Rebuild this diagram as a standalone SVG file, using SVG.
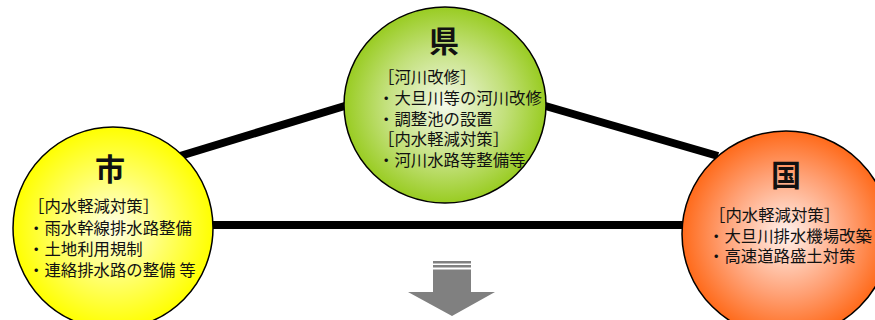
<svg xmlns="http://www.w3.org/2000/svg" width="875" height="320" viewBox="0 0 875 320">
<style>
.ln{stroke:#000;stroke-width:8;fill:none}
.node{stroke:#000;stroke-width:1.5}
.title{font-family:"Noto Sans CJK JP","Noto Sans CJK SC",sans-serif;font-weight:bold;font-size:30px;fill:#111;text-anchor:middle}
.t{font-family:"Noto Sans CJK JP","Noto Sans CJK SC",sans-serif;font-size:16.4px;fill:#111}
</style>
<defs>
<radialGradient id="gy" cx="50%" cy="50%" r="50%">
<stop offset="0" stop-color="#ffffe6"/>
<stop offset="0.55" stop-color="#ffff66"/>
<stop offset="1" stop-color="#ffff00"/>
</radialGradient>
<radialGradient id="gg" cx="50%" cy="50%" r="50%">
<stop offset="0" stop-color="#f4f9ea"/>
<stop offset="0.6" stop-color="#c2e07a"/>
<stop offset="1" stop-color="#99cc22"/>
</radialGradient>
<radialGradient id="go" cx="50%" cy="50%" r="50%">
<stop offset="0" stop-color="#fff2ee"/>
<stop offset="0.6" stop-color="#ffa074"/>
<stop offset="1" stop-color="#ff6a1a"/>
</radialGradient>
</defs>
<g id="connectors">
<line class="ln" x1="180" y1="156" x2="348" y2="105"/>
<line class="ln" x1="542" y1="105" x2="718" y2="156"/>
<line class="ln" x1="205" y1="225" x2="690" y2="225"/>
</g>
<g id="city">
<ellipse class="node" cx="113" cy="228" rx="100" ry="101" fill="url(#gy)"/>
<text class="title" x="110" y="180">市</text>
<text class="t" x="28" y="212">［内水軽減対策］</text>
<text class="t" x="28" y="234">・雨水幹線排水路整備</text>
<text class="t" x="28" y="255">・土地利用規制</text>
<text class="t" x="28" y="276">・連絡排水路の整備 等</text>
</g>
<g id="prefecture">
<ellipse class="node" cx="445" cy="105" rx="101" ry="98" fill="url(#gg)"/>
<text class="title" x="444" y="52">県</text>
<text class="t" x="378" y="83">［河川改修］</text>
<text class="t" x="378" y="104">・大旦川等の河川改修</text>
<text class="t" x="378" y="125">・調整池の設置</text>
<text class="t" x="378" y="145">［内水軽減対策］</text>
<text class="t" x="378" y="166">・河川水路等整備等</text>
</g>
<g id="nation">
<ellipse class="node" cx="786" cy="234" rx="104" ry="103" fill="url(#go)"/>
<text class="title" x="786" y="186">国</text>
<text class="t" x="709" y="221">［内水軽減対策］</text>
<text class="t" x="708" y="242">・大旦川排水機場改築</text>
<text class="t" x="708" y="262">・高速道路盛土対策</text>
</g>
<g id="arrow" fill="#808080">
<rect x="433" y="261" width="38" height="2.5"/>
<rect x="433" y="265" width="38" height="2.5"/>
<polygon points="433,269.5 471,269.5 471,292 495,292 452,316 408,292 433,292"/>
</g>
</svg>
